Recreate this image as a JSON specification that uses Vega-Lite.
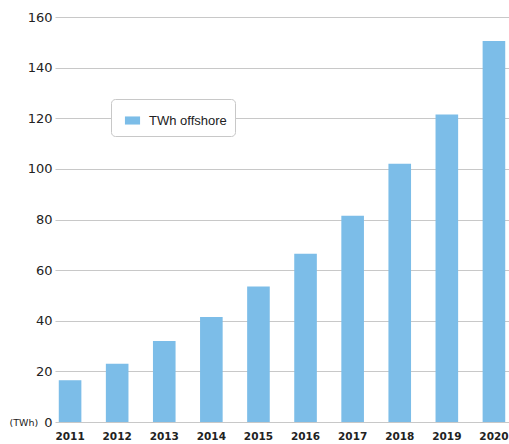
{
  "$schema": "https://vega.github.io/schema/vega-lite/v6.json",
  "width": 454,
  "height": 405,
  "autosize": {"type": "none"},
  "padding": {"left": 55, "top": 17, "right": 0, "bottom": 22},
  "background": "white",
  "config": {"view": {"stroke": null}},
  "data": {
    "values": [
      {"year": "2011", "series": "TWh offshore", "twh": 16.5},
      {"year": "2012", "series": "TWh offshore", "twh": 23},
      {"year": "2013", "series": "TWh offshore", "twh": 32},
      {"year": "2014", "series": "TWh offshore", "twh": 41.5},
      {"year": "2015", "series": "TWh offshore", "twh": 53.5},
      {"year": "2016", "series": "TWh offshore", "twh": 66.5},
      {"year": "2017", "series": "TWh offshore", "twh": 81.5},
      {"year": "2018", "series": "TWh offshore", "twh": 102},
      {"year": "2019", "series": "TWh offshore", "twh": 121.5},
      {"year": "2020", "series": "TWh offshore", "twh": 150.5}
    ]
  },
  "mark": {"type": "bar", "color": "#7cbde8"},
  "encoding": {
    "x": {
      "field": "year",
      "type": "ordinal",
      "scale": {"paddingInner": 0.52, "paddingOuter": 0.08},
      "axis": {
        "title": null,
        "labelAngle": 0,
        "domain": false,
        "ticks": false,
        "labelPadding": 9,
        "labelFont": "DejaVu Sans",
        "labelFontWeight": "bold",
        "labelFontSize": 10.5,
        "labelColor": "#222"
      }
    },
    "y": {
      "field": "twh",
      "type": "quantitative",
      "scale": {"domain": [0, 160], "nice": false},
      "axis": {
        "values": [0, 20, 40, 60, 80, 100, 120, 140, 160],
        "title": "(TWh)",
        "titleAngle": 0,
        "titleAlign": "left",
        "titleBaseline": "middle",
        "titleX": -46,
        "titleY": 405,
        "titleFont": "DejaVu Sans",
        "titleFontSize": 9.5,
        "titleFontWeight": "normal",
        "titleColor": "#222",
        "domain": false,
        "ticks": false,
        "labelPadding": 3,
        "labelFont": "DejaVu Sans",
        "labelFontSize": 13,
        "labelColor": "#222",
        "gridColor": "#c8c8c8",
        "gridWidth": 1.2
      }
    },
    "fill": {
      "field": "series",
      "type": "nominal",
      "scale": {"range": ["#7cbde8"]},
      "legend": {
        "title": null,
        "orient": "none",
        "legendX": 56,
        "legendY": 82,
        "direction": "vertical",
        "fillColor": "white",
        "strokeColor": "#c8c8c8",
        "cornerRadius": 4,
        "padding": 8,
        "symbolType": "M-0.56,-0.3H0.56V0.3H-0.56Z",
        "symbolSize": 729,
        "symbolStrokeWidth": 0,
        "labelFont": "Liberation Sans",
        "labelFontSize": 13,
        "labelColor": "#222",
        "labelOffset": 3
      }
    }
  }
}
